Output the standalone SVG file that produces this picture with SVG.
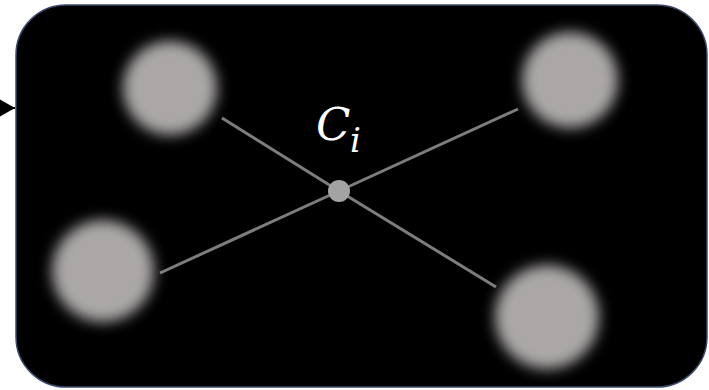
<svg xmlns="http://www.w3.org/2000/svg" width="709" height="390" viewBox="0 0 709 390">
<style>
.spot{fill:#aba7a7;filter:url(#blur)}
.edge{stroke:#7d7d7d;stroke-width:3;fill:none}
.lbl{font-family:"DejaVu Serif","Liberation Serif",serif;font-style:italic;fill:#ffffff}
</style>
<defs>
<filter id="blur" x="-50%" y="-50%" width="200%" height="200%"><feGaussianBlur stdDeviation="7"/></filter>
<marker id="arr" viewBox="0 0 16 18" refX="16" refY="9" markerWidth="16" markerHeight="18" markerUnits="userSpaceOnUse" orient="auto"><path d="M0,0 L16,9 L0,18 Z" fill="#000"/></marker>
</defs>
<rect id="frame" x="16" y="5" width="691" height="382" rx="50" ry="50" fill="#000" stroke="#3c4a6a" stroke-width="1.5"/>
<g id="connectors">
<line class="edge" x1="222" y1="118" x2="339" y2="191"/>
<line class="edge" x1="518" y1="109" x2="339" y2="191"/>
<line class="edge" x1="160" y1="273" x2="339" y2="191"/>
<line class="edge" x1="496" y1="287" x2="339" y2="191"/>
<line x1="-20" y1="108" x2="15" y2="108" stroke="#000" stroke-width="2" marker-end="url(#arr)"/>
</g>
<g id="p1"><circle class="spot" cx="170" cy="88" r="47"/></g>
<g id="p2"><circle class="spot" cx="570" cy="80" r="48"/></g>
<g id="p3"><circle class="spot" cx="103" cy="271" r="51"/></g>
<g id="p4"><circle class="spot" cx="547" cy="317" r="52"/></g>
<g id="center"><circle cx="339" cy="191" r="11" fill="#a3a3a3"/></g>
<g id="label"><text class="lbl" x="316" y="140" font-size="45">C</text><text class="lbl" x="350" y="152" font-size="34">i</text></g>
</svg>
